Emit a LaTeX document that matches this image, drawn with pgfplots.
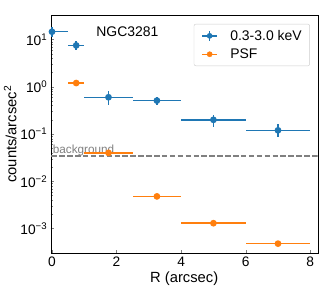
\documentclass[border=0pt]{standalone}
\usepackage{pgfplots}
\pgfplotsset{compat=1.18}
\usepackage{fontspec}
\setmainfont{Liberation Sans}
\definecolor{mblue}{HTML}{1F77B4}
\definecolor{morange}{HTML}{FF7F0E}
\begin{document}
\begin{tikzpicture}
\begin{axis}[
  scale only axis,
  width=267bp, height=238.3bp,
  xmin=-0.04, xmax=8.23,
  ymode=log, ymin=3e-4, ymax=33,
  xtick={0,2,4,6,8},
  ytick={1e-3,1e-2,1e-1,1,10},
  yticklabels={10\textsuperscript{−3},10\textsuperscript{−2},10\textsuperscript{−1},10\textsuperscript{0},10\textsuperscript{1}},
  tick align=inside,
  xtick pos=left, ytick pos=left,
  major tick length=3.5bp, minor tick length=2bp,
  /pgf/number format/assume math mode=true,
  tick label style={font=\fontsize{13.8}{15}\selectfont},
  label style={font=\fontsize{14.8}{16}\selectfont},
  xlabel={R (arcsec)},
  ylabel={counts/arcsec\textsuperscript{2}},
  ylabel style={yshift=-3bp},
  xlabel style={yshift=2bp},
  legend style={at={(rel axis cs:0.97,0.962)}, anchor=north east, outer sep=0pt, draw=black!20, rounded corners=2bp, font=\fontsize{14}{15}\selectfont, row sep=3bp, inner xsep=4bp, inner ysep=4bp, nodes={inner xsep=4bp}},
  legend cell align=left,
  clip=true,
]
\addplot[gray, line width=1.5bp, dash pattern=on 5.5bp off 2.4bp, forget plot] coordinates {(-1,0.034) (9,0.034)};
\node[anchor=south west, text=gray, font=\fontsize{11.8}{13}\selectfont, inner sep=0pt] at (axis cs:0.02,0.0345) {background};
\node[anchor=west, font=\fontsize{14}{16}\selectfont, inner sep=0pt] at (axis cs:1.37,14.4) {NGC3281};

\addplot[mblue, only marks, mark=*, mark size=2.6pt, line width=1.5bp, forget plot,
  error bars/.cd, x dir=both, x explicit, y dir=both, y explicit,
  error mark=none, error bar style={line width=1.5bp, mblue}]
  coordinates {
  (0,14.6) += (0.5,3.8) -= (0.5,3.3)
  (0.75,7.5) += (0.25,1.9) -= (0.25,1.5)
  (1.75,0.6) += (0.75,0.22) -= (0.75,0.19)
  (3.25,0.51) += (0.75,0.1) -= (0.75,0.1)
  (5,0.2) += (1,0.05) -= (1,0.06)
  (7,0.12) += (1,0.04) -= (1,0.035)
  };
\addplot[morange, only marks, mark=*, mark size=2.6pt, line width=1.5bp, forget plot,
  error bars/.cd, x dir=both, x explicit,
  error mark=none, error bar style={line width=1.5bp, morange}]
  coordinates {
  (0.75,1.2) +- (0.25,0)
  (1.75,0.04) +- (0.75,0)
  (3.25,0.0048) +- (0.75,0)
  (5,0.0013) +- (1,0)
  (7,0.00048) +- (1,0)
  };
\addlegendimage{legend image code/.code={
  \draw[mblue, line width=1.5bp] (4bp,0bp) -- (19bp,0bp);
  \draw[mblue, line width=1.5bp] (11.5bp,-5bp) -- (11.5bp,5bp);
  \fill[mblue] (11.5bp,0bp) circle (2.6bp);
  \path (0bp,0bp) (28bp,0bp);}}
\addlegendentry{0.3-3.0 keV}
\addlegendimage{legend image code/.code={
  \draw[morange, line width=1.5bp] (4bp,0bp) -- (19bp,0bp);
  \fill[morange] (11.5bp,0bp) circle (2.6bp);
  \path (0bp,0bp) (28bp,0bp);}}
\addlegendentry{PSF}
\end{axis}
\path (current axis.south west) ++(-50.7bp,-37.7bp);
\path (current axis.north east) ++(6.3bp,15bp);
\end{tikzpicture}
\end{document}
